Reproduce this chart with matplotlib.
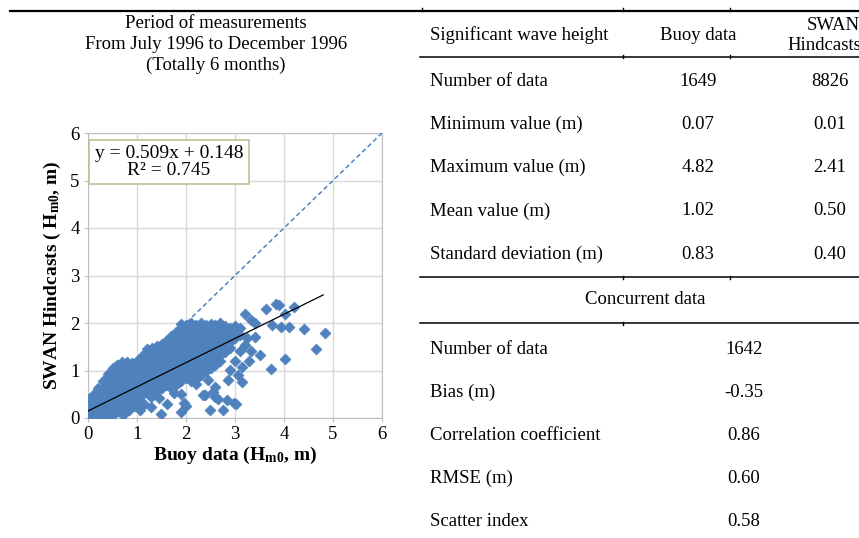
import matplotlib.pyplot as plt
from matplotlib.lines import Line2D

plt.rcParams["font.family"] = ["Liberation Serif", "DejaVu Serif"]
plt.rcParams["mathtext.fontset"] = "custom"
plt.rcParams["mathtext.rm"] = "Liberation Serif"
plt.rcParams["mathtext.bf"] = "Liberation Serif:bold"

# Concurrent Hm0 pairs (buoy, SWAN), dense core listed column by column
core_columns = [
    (0.02, [0.00, 0.14, 0.28, 0.40]),
    (0.11, [0.00, 0.07, 0.21, 0.35, 0.49]),
    (0.20, [0.00, 0.14, 0.28, 0.42, 0.56, 0.63]),
    (0.30, [0.01, 0.07, 0.21, 0.35, 0.49, 0.63, 0.77]),
    (0.40, [0.02, 0.14, 0.28, 0.42, 0.56, 0.70, 0.84, 0.93]),
    (0.50, [0.07, 0.21, 0.35, 0.49, 0.63, 0.77, 0.91, 1.05]),
    (0.60, [0.14, 0.28, 0.42, 0.56, 0.70, 0.84, 0.98, 1.12]),
    (0.70, [0.21, 0.35, 0.49, 0.63, 0.77, 0.91, 1.05, 1.17]),
    (0.80, [0.28, 0.42, 0.56, 0.70, 0.84, 0.98, 1.12, 1.18]),
    (0.90, [0.35, 0.49, 0.63, 0.77, 0.91, 1.05, 1.16]),
    (1.00, [0.36, 0.42, 0.56, 0.70, 0.84, 0.98, 1.12, 1.20]),
    (1.10, [0.49, 0.63, 0.77, 0.91, 1.05, 1.19, 1.31]),
    (1.20, [0.56, 0.70, 0.84, 0.98, 1.12, 1.26, 1.40, 1.46]),
    (1.30, [0.49, 0.63, 0.77, 0.91, 1.05, 1.19, 1.33, 1.47]),
    (1.40, [0.56, 0.70, 0.84, 0.98, 1.12, 1.26, 1.40, 1.52]),
    (1.50, [0.63, 0.77, 0.91, 1.05, 1.19, 1.33, 1.47, 1.56]),
    (1.60, [0.70, 0.84, 0.98, 1.12, 1.26, 1.40, 1.54, 1.62]),
    (1.70, [0.63, 0.77, 0.91, 1.05, 1.19, 1.33, 1.47, 1.61, 1.72]),
    (1.80, [0.70, 0.84, 0.98, 1.12, 1.26, 1.40, 1.54, 1.68, 1.82]),
    (1.90, [0.77, 0.91, 1.05, 1.19, 1.33, 1.47, 1.61, 1.75, 1.89, 1.97]),
    (2.00, [0.84, 0.98, 1.12, 1.26, 1.40, 1.54, 1.68, 1.82, 1.96]),
    (2.10, [0.77, 0.91, 1.05, 1.19, 1.33, 1.47, 1.61, 1.75, 1.89, 1.99]),
    (2.20, [0.84, 0.98, 1.12, 1.26, 1.40, 1.54, 1.68, 1.82, 1.96]),
    (2.30, [0.91, 1.05, 1.19, 1.33, 1.47, 1.61, 1.75, 1.89, 2.00]),
    (2.40, [0.98, 1.12, 1.26, 1.40, 1.54, 1.68, 1.82, 1.96]),
    (2.50, [1.05, 1.19, 1.33, 1.47, 1.61, 1.75, 1.89, 1.98]),
    (2.60, [1.12, 1.26, 1.40, 1.54, 1.68, 1.82, 1.95]),
    (2.70, [1.19, 1.33, 1.47, 1.61, 1.75, 1.89, 1.99]),
    (2.80, [1.40, 1.54, 1.68, 1.82, 1.94]),
    (2.90, [1.47, 1.61, 1.75, 1.89]),
    (3.00, [1.68, 1.82, 1.94]),
    (3.10, [1.75, 1.89]),
]

# scattered pairs outside the main cloud
outlier_buoy = [3.21, 3.33, 3.63, 3.83, 3.90, 4.21, 4.03, 3.41, 3.76, 3.93,
                4.10, 4.41, 4.83, 4.66, 4.03, 3.74, 3.52, 3.10, 3.33, 3.41,
                3.14, 3.07, 3.03, 2.83, 2.59, 2.59, 2.38, 2.48, 2.76, 2.00,
                1.95, 1.90, 1.61, 1.48, 1.28, 1.07, 1.03, 1.28, 0.83, 0.72,
                0.38, 1.90, 2.20, 2.24, 3.14, 2.86, 3.00, 3.28, 2.66, 2.97,
                3.20, 3.25, 2.35, 2.56, 1.45, 1.75, 2.90, 0.95, 1.15, 2.45]
outlier_swan = [2.20, 2.06, 2.30, 2.40, 2.38, 2.34, 2.20, 1.99, 1.95, 1.92,
                1.92, 1.88, 1.78, 1.46, 1.24, 1.04, 1.32, 1.42, 1.42, 1.71,
                1.07, 0.90, 0.30, 0.37, 0.65, 0.44, 0.48, 0.16, 0.16, 0.25,
                0.32, 0.13, 0.30, 0.09, 0.23, 0.16, 0.41, 0.44, 0.16, 0.06,
                0.02, 0.51, 0.72, 0.86, 0.76, 0.79, 1.21, 1.21, 0.41, 0.31,
                1.54, 1.68, 0.48, 0.55, 0.42, 0.52, 1.02, 0.25, 0.30, 0.80]

fit_slope = 0.509
fit_intercept = 0.148
fit_r2 = 0.745
fit_xmax = 4.8

title_lines = ["Period of measurements", "From July 1996 to December 1996",
               "(Totally 6 months)"]

stat_labels = ["Number of data", "Minimum value (m)", "Maximum value (m)",
               "Mean value (m)", "Standard deviation (m)"]
buoy_stats = ["1649", "0.07", "4.82", "1.02", "0.83"]
swan_stats = ["8826", "0.01", "2.41", "0.50", "0.40"]

concurrent_labels = ["Number of data", "Bias (m)", "Correlation coefficient",
                     "RMSE (m)", "Scatter index"]
concurrent_values = ["1642", "-0.35", "0.86", "0.60", "0.58"]

buoy_hm0 = [x for x, ys in core_columns for _ in ys] + outlier_buoy
swan_hm0 = [y for _, ys in core_columns for y in ys] + outlier_swan

W, H = 859, 538
fig = plt.figure(figsize=(W / 100, H / 100), dpi=100)


def fx(px):
    return px / W


def fy(py):
    return 1 - py / H


blue = "#4f81bd"
grid_c = "#d9d9d9"

ax = fig.add_axes([fx(88), fy(418), 294 / W, 285 / H])
ax.scatter(buoy_hm0, swan_hm0, marker="D", s=32, color=blue, edgecolors=blue,
           linewidths=0.4, zorder=3)
ax.plot([0, 6], [0, 6], color=blue, ls=(0, (3, 2)), lw=1.1, zorder=4)
ax.plot([0, fit_xmax], [fit_intercept, fit_slope * fit_xmax + fit_intercept],
        color="black", lw=0.9, zorder=5)

ax.set_xlim(0, 6)
ax.set_ylim(0, 6)
ax.set_xticks(range(7))
ax.set_yticks(range(7))
ax.grid(True, color=grid_c, lw=1)
ax.set_axisbelow(True)
for sp in ax.spines.values():
    sp.set_color("#bfbfbf")
ax.tick_params(length=3, color="#bfbfbf", labelsize=13.5, pad=3)

ax.set_xlabel(r"Buoy data ($\mathbf{H_{m0}}$, m)", fontsize=14,
              fontweight="bold", labelpad=1)
ax.set_ylabel(r"SWAN Hindcasts ( $\mathbf{H_{m0}}$, m)", fontsize=14,
              fontweight="bold", labelpad=5)

ax.text(1.65, 5.39,
        f"y = {fit_slope}x + {fit_intercept}\nR² = {fit_r2}",
        ha="center", va="center", fontsize=14, linespacing=1.0, zorder=6,
        bbox=dict(boxstyle="square,pad=0.28", fc="white", ec="#c4bd97", lw=1.2))

# period header above the plot
for i, line in enumerate(title_lines):
    fig.text(fx(216), fy(24 + i * 20.5), line, ha="center", va="center",
             fontsize=13.5)


# rules
def hline(y, x0, x1, lw):
    fig.add_artist(Line2D([fx(x0), fx(x1)], [fy(y), fy(y)], color="black",
                          lw=lw))


def tick(x, y):
    fig.add_artist(Line2D([fx(x), fx(x)], [fy(y - 1.5), fy(y + 1.5)],
                          color="black", lw=1))


hline(10.8, 10, W, 1.6)
hline(56.8, 420, W, 1.1)
hline(277, 420, W, 1.1)
hline(323, 420, W, 1.1)
for cx in (422, 623, 730):
    tick(cx, 9)
for cx in (623, 730):
    tick(cx, 56.8)
    tick(cx, 277)
tick(623, 323)

# statistics table
fs = 13.5
fig.text(fx(430), fy(35), "Significant wave height", ha="left", va="center",
         fontsize=fs)
fig.text(fx(698), fy(35), "Buoy data", ha="center", va="center", fontsize=fs)
fig.text(fx(833), fy(25), "SWAN", ha="center", va="center", fontsize=fs)
fig.text(fx(787), fy(45), "Hindcasts", ha="left", va="center", fontsize=fs)

for i, (lab, b, s) in enumerate(zip(stat_labels, buoy_stats, swan_stats)):
    y = 81 + i * 43.3
    fig.text(fx(430), fy(y), lab, ha="left", va="center", fontsize=fs)
    fig.text(fx(698), fy(y), b, ha="center", va="center", fontsize=fs)
    fig.text(fx(830), fy(y), s, ha="center", va="center", fontsize=fs)

fig.text(fx(645), fy(300), "Concurrent data", ha="center", va="center",
         fontsize=fs)
for i, (lab, v) in enumerate(zip(concurrent_labels, concurrent_values)):
    y = 349 + i * 43.2
    fig.text(fx(430), fy(y), lab, ha="left", va="center", fontsize=fs)
    fig.text(fx(744), fy(y), v, ha="center", va="center", fontsize=fs)

fig.savefig("out.png", dpi=100)
